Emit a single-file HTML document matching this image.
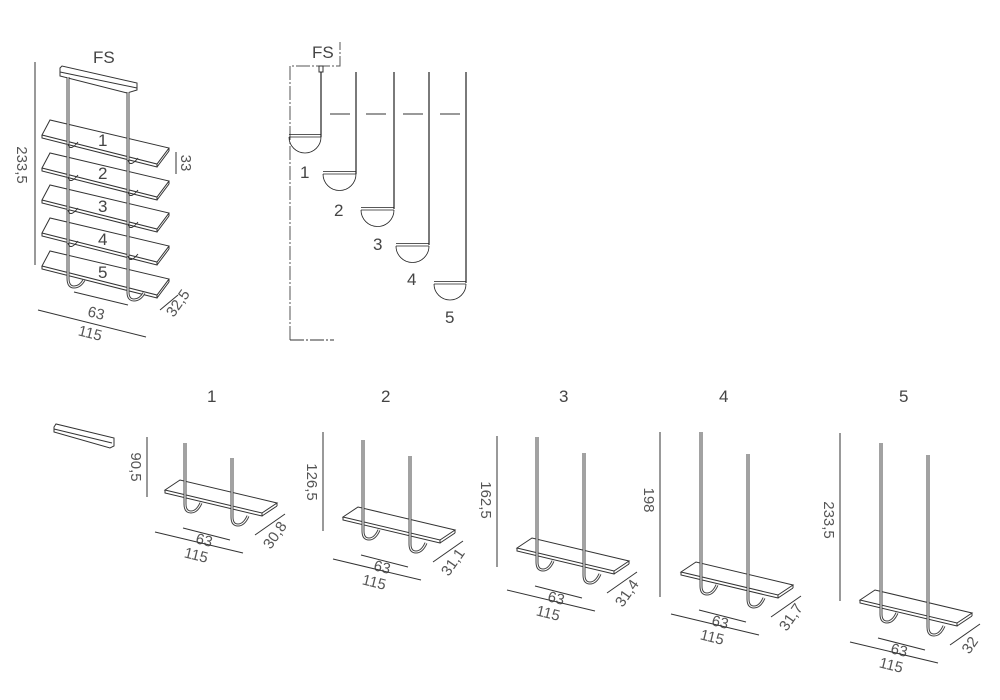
<!DOCTYPE html>
<html><head><meta charset="utf-8"><style>
html,body{margin:0;padding:0;background:#fff;}
svg{display:block;font-family:"Liberation Sans",sans-serif;}
.t{fill:#555;font-size:15px;}
.n{fill:#444;font-size:17px;}
.d{stroke:#333;stroke-width:1;fill:none;}
.sh{fill:#fff;stroke:#333;stroke-width:1;}
.ro{fill:none;stroke:#444;stroke-width:3;}
.ri{fill:none;stroke:#fff;stroke-width:1;}
</style></head><body>
<svg width="1000" height="700" viewBox="0 0 1000 700" xmlns="http://www.w3.org/2000/svg">
<defs>
<g id="shelf">
  <polygon class="sh" points="0,0 15,-10 112,13 97,23"/>
  <polyline class="d" points="0,0 0,3 97,26 97,23"/><line class="d" x1="97" y1="26" x2="112" y2="16"/><line class="d" x1="112" y1="13" x2="112" y2="16"/>
</g>
<g id="fsshelf">
  <polygon class="sh" points="0,0 8,-15 127,13 115,29"/>
  <polyline class="d" points="0,0 0,3 115,32 115,29"/><line class="d" x1="115" y1="32" x2="127" y2="16"/><line class="d" x1="127" y1="13" x2="127" y2="16"/>
</g>
<g id="rods1">
</g>
</defs>

<!-- FS top-left -->
<text class="n" x="93" y="63">FS</text>
<line class="d" x1="35" y1="62" x2="35" y2="265"/>
<text class="t" transform="translate(17,165) rotate(90)" text-anchor="middle">233,5</text>
<polygon class="sh" points="60,68 62,66 137,83 137,90 127,93 60,76"/>
<line class="d" x1="60" y1="72" x2="137" y2="88"/>
<use href="#fsshelf" x="42" y="135"/>
<use href="#fsshelf" x="42" y="168"/>
<use href="#fsshelf" x="42" y="200"/>
<use href="#fsshelf" x="42" y="233"/>
<use href="#fsshelf" x="42" y="266"/>
<g>
<path class="ro" d="M68,77 V278 Q68,287 74,287 Q80,287 84,280 M128,92 V292 Q128,300 134,300 Q140,300 144,293"/>
<path class="ri" d="M68,77 V278 Q68,287 74,287 Q80,287 84,280 M128,92 V292 Q128,300 134,300 Q140,300 144,293"/>
<path class="d" d="M68,144 q2,8 10,-2 M128,160 q2,8 10,-2 M68,177 q2,8 10,-2 M128,192 q2,8 10,-2 M68,210 q2,8 10,-2 M128,224 q2,8 10,-2 M68,243 q2,8 10,-2 M128,256 q2,8 10,-2"/>
</g>
<text class="n" x="98" y="146">1</text><text class="n" x="98" y="179">2</text><text class="n" x="98" y="212">3</text><text class="n" x="98" y="245">4</text><text class="n" x="98" y="278">5</text>
<line class="d" x1="176" y1="152" x2="176" y2="174"/>
<text class="t" transform="translate(181,163) rotate(90)" text-anchor="middle" font-size="14">33</text>
<line class="d" x1="74" y1="292" x2="128" y2="305"/>
<text class="t" transform="translate(95,318) rotate(14)" text-anchor="middle" font-size="14">63</text>
<line class="d" x1="38" y1="310" x2="146" y2="337"/>
<text class="t" transform="translate(89,338) rotate(14)" text-anchor="middle" font-size="14">115</text>
<line class="d" x1="160" y1="310" x2="178" y2="295"/>
<text class="t" transform="translate(182,306) rotate(-55)" text-anchor="middle" font-size="14">32,5</text>

<!-- middle FS -->
<text class="n" x="312" y="58">FS</text>
<path d="M290,340 V66 H340 V42" fill="none" stroke="#555" stroke-width="1" stroke-dasharray="14,2,2,2"/>
<line class="d" x1="290" y1="340" x2="334" y2="340" stroke-dasharray="14,2,2,2"/>
<rect x="319" y="66" width="4" height="6" fill="#fff" stroke="#333"/>
<g stroke="#222" stroke-width="1.2" fill="none">
<line x1="321" y1="72" x2="321" y2="137"/>
<line x1="356" y1="72" x2="356" y2="174"/>
<line x1="394" y1="72" x2="394" y2="209"/>
<line x1="429" y1="72" x2="429" y2="245"/>
<line x1="466" y1="72" x2="466" y2="283"/>
</g>
<g stroke="#222" stroke-width="0.8" fill="none">
<path d="M289,134.5 H321 M289,137 H321 M289,137 A16,16 0 0 0 321,137"/>
<path d="M323,171.5 H356 M323,174 H356 M323,174 A16.5,16.5 0 0 0 356,174"/>
<path d="M361,207.5 H394 M361,210 H394 M361,210 A16.5,16.5 0 0 0 394,210"/>
<path d="M396,243.5 H429 M396,246 H429 M396,246 A16.5,16.5 0 0 0 429,246"/>
<path d="M434,281.5 H466 M434,284 H466 M434,284 A16,16 0 0 0 466,284"/>
</g>
<g stroke="#333" stroke-width="1"><line x1="330" y1="114" x2="350" y2="114"/><line x1="366" y1="114" x2="386" y2="114"/><line x1="403" y1="114" x2="423" y2="114"/><line x1="440" y1="114" x2="460" y2="114"/></g>
<text class="n" x="300" y="178">1</text><text class="n" x="334" y="216">2</text><text class="n" x="373" y="250">3</text><text class="n" x="407" y="285">4</text><text class="n" x="445" y="323">5</text>

<!-- bar -->
<polygon class="sh" points="54,427 56,424 114,438 114,446 110,448 54,432"/>
<line class="d" x1="54" y1="429" x2="112" y2="443"/>

<!-- numbers -->
<text class="n" x="207" y="402">1</text><text class="n" x="381" y="402">2</text><text class="n" x="559" y="402">3</text><text class="n" x="719" y="402">4</text><text class="n" x="899" y="402">5</text>

<!-- M1 -->
<line class="d" x1="147" y1="437" x2="147" y2="497"/>
<text class="t" transform="translate(131,467) rotate(90)" text-anchor="middle" font-size="14">90,5</text>
<g transform="translate(165,490)">
<use href="#shelf"/>
<path class="ro" d="M20,-47 V14 Q20,22 26,22 Q32,22 36,13 M67,-32 V27 Q67,35 73,35 Q79,35 83,26"/>
<path class="ri" d="M20,-47 V14 Q20,22 26,22 Q32,22 36,13 M67,-32 V27 Q67,35 73,35 Q79,35 83,26"/>
<line class="d" x1="18" y1="38" x2="65" y2="50"/><text class="t" transform="translate(38,55) rotate(14)" text-anchor="middle" font-size="14">63</text>
<line class="d" x1="-10" y1="42" x2="78" y2="63"/><text class="t" transform="translate(30,70) rotate(14)" text-anchor="middle" font-size="14">115</text>
<line class="d" x1="90" y1="45" x2="120" y2="24"/><text class="t" transform="translate(114,48) rotate(-55)" text-anchor="middle" font-size="14">30,8</text>
</g>
<!-- M2 -->
<line class="d" x1="323" y1="432" x2="323" y2="531"/>
<text class="t" transform="translate(307,482) rotate(90)" text-anchor="middle" font-size="14">126,5</text>
<g transform="translate(343,517)">
<use href="#shelf"/>
<path class="ro" d="M20,-77 V14 Q20,22 26,22 Q32,22 36,13 M67,-61 V27 Q67,35 73,35 Q79,35 83,26"/>
<path class="ri" d="M20,-77 V14 Q20,22 26,22 Q32,22 36,13 M67,-61 V27 Q67,35 73,35 Q79,35 83,26"/>
<line class="d" x1="18" y1="38" x2="65" y2="50"/><text class="t" transform="translate(38,55) rotate(14)" text-anchor="middle" font-size="14">63</text>
<line class="d" x1="-10" y1="42" x2="78" y2="63"/><text class="t" transform="translate(30,70) rotate(14)" text-anchor="middle" font-size="14">115</text>
<line class="d" x1="90" y1="45" x2="120" y2="24"/><text class="t" transform="translate(114,48) rotate(-55)" text-anchor="middle" font-size="14">31,1</text>
</g>
<!-- M3 -->
<line class="d" x1="497" y1="436" x2="497" y2="567"/>
<text class="t" transform="translate(481,500) rotate(90)" text-anchor="middle" font-size="14">162,5</text>
<g transform="translate(517,548)">
<use href="#shelf"/>
<path class="ro" d="M20,-111 V14 Q20,22 26,22 Q32,22 36,13 M67,-95 V27 Q67,35 73,35 Q79,35 83,26"/>
<path class="ri" d="M20,-111 V14 Q20,22 26,22 Q32,22 36,13 M67,-95 V27 Q67,35 73,35 Q79,35 83,26"/>
<line class="d" x1="18" y1="38" x2="65" y2="50"/><text class="t" transform="translate(38,55) rotate(14)" text-anchor="middle" font-size="14">63</text>
<line class="d" x1="-10" y1="42" x2="78" y2="63"/><text class="t" transform="translate(30,70) rotate(14)" text-anchor="middle" font-size="14">115</text>
<line class="d" x1="90" y1="45" x2="120" y2="24"/><text class="t" transform="translate(114,48) rotate(-55)" text-anchor="middle" font-size="14">31,4</text>
</g>
<!-- M4 -->
<line class="d" x1="660" y1="432" x2="660" y2="597"/>
<text class="t" transform="translate(644,500) rotate(90)" text-anchor="middle" font-size="14">198</text>
<g transform="translate(681,572)">
<use href="#shelf"/>
<path class="ro" d="M20,-140 V14 Q20,22 26,22 Q32,22 36,13 M67,-118 V27 Q67,35 73,35 Q79,35 83,26"/>
<path class="ri" d="M20,-140 V14 Q20,22 26,22 Q32,22 36,13 M67,-118 V27 Q67,35 73,35 Q79,35 83,26"/>
<line class="d" x1="18" y1="38" x2="65" y2="50"/><text class="t" transform="translate(38,55) rotate(14)" text-anchor="middle" font-size="14">63</text>
<line class="d" x1="-10" y1="42" x2="78" y2="63"/><text class="t" transform="translate(30,70) rotate(14)" text-anchor="middle" font-size="14">115</text>
<line class="d" x1="90" y1="45" x2="120" y2="24"/><text class="t" transform="translate(114,48) rotate(-55)" text-anchor="middle" font-size="14">31,7</text>
</g>
<!-- M5 -->
<line class="d" x1="840" y1="433" x2="840" y2="601"/>
<text class="t" transform="translate(824,520) rotate(90)" text-anchor="middle" font-size="14">233,5</text>
<g transform="translate(860,600)">
<use href="#shelf"/>
<path class="ro" d="M21,-157 V14 Q21,22 27,22 Q33,22 37,13 M68,-145 V27 Q68,35 74,35 Q80,35 84,26"/>
<path class="ri" d="M21,-157 V14 Q21,22 27,22 Q33,22 37,13 M68,-145 V27 Q68,35 74,35 Q80,35 84,26"/>
<line class="d" x1="18" y1="38" x2="65" y2="50"/><text class="t" transform="translate(38,55) rotate(14)" text-anchor="middle" font-size="14">63</text>
<line class="d" x1="-10" y1="42" x2="78" y2="63"/><text class="t" transform="translate(30,70) rotate(14)" text-anchor="middle" font-size="14">115</text>
<line class="d" x1="90" y1="45" x2="120" y2="24"/><text class="t" transform="translate(114,48) rotate(-55)" text-anchor="middle" font-size="14">32</text>
</g>
</svg>
</body></html>
